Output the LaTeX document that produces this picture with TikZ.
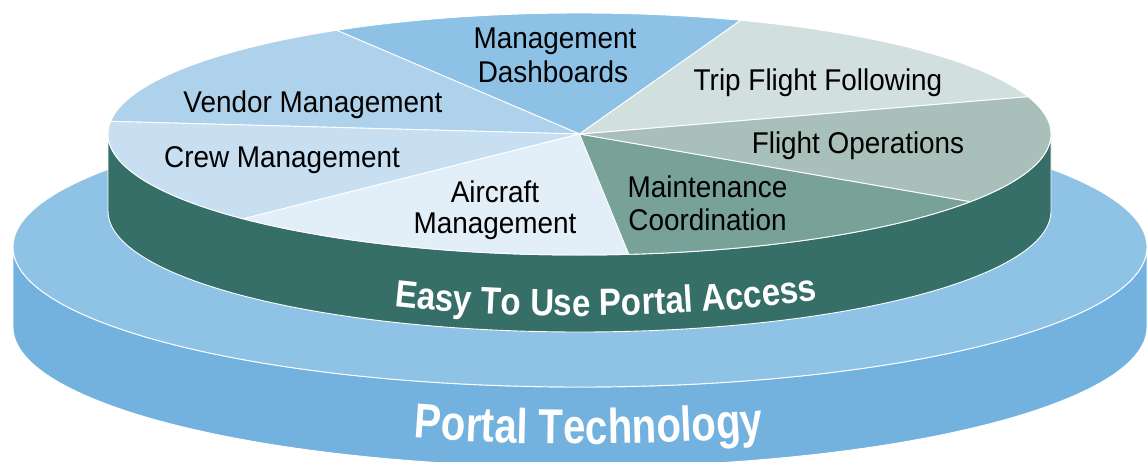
\documentclass[tikz,border=0pt]{standalone}
\usepackage{fontspec}
\usetikzlibrary{calc,decorations.text}
\newfontfamily\lblfont{Liberation Sans}[FakeStretch=0.93]
\newfontfamily\easyfont{Liberation Sans}[FakeStretch=0.87]
\newfontfamily\portalfont{Liberation Sans}[FakeStretch=0.82]
\definecolor{outertop}{HTML}{8FC3E6}
\definecolor{outerside}{HTML}{73B2DF}
\definecolor{greenside}{HTML}{366F67}
\definecolor{cdash}{HTML}{8DC2E6}
\definecolor{cvendor}{HTML}{AFD2EC}
\definecolor{ccrew}{HTML}{C7DFF1}
\definecolor{caircraft}{HTML}{E2EFF9}
\definecolor{cmaint}{HTML}{78A297}
\definecolor{cflight}{HTML}{A8BFBA}
\definecolor{ctrip}{HTML}{D1DFDE}
\begin{document}
\begin{tikzpicture}[x=1pt,y=1pt,line join=round,
  edge/.style={draw=white,line width=0.9pt},
  lbl/.style={anchor=base,inner sep=0pt,font=\lblfont\fontsize{30}{32}\selectfont,text=black}]
\useasboundingbox (0,0) rectangle (1147,-461);
\clip (0,0) rectangle (1147,-461);
\coordinate (OT) at (580,-247);
\coordinate (OB) at (580,-327);
\coordinate (PT) at (579.5,-134);
\coordinate (PB) at (579.5,-211);
\coordinate (EC) at (579.5,-195);
\coordinate (TC) at (580,-304);
% outer disc
\path[fill=outerside,edge] ($(OT)+(180:567 and 140)$) -- ($(OB)+(180:567 and 140)$)
  arc[start angle=180,end angle=360,x radius=567,y radius=140]
  -- ($(OT)+(0:567 and 140)$)
  arc[start angle=0,end angle=-180,x radius=567,y radius=140] -- cycle;
\path[fill=outertop,edge] (OT) ellipse[x radius=567,y radius=140];
% pie cylinder side
\path[fill=greenside,edge] ($(PT)+(180:471.5 and 121)$) -- ($(PB)+(180:471.5 and 121)$)
  arc[start angle=180,end angle=360,x radius=471.5,y radius=121]
  -- ($(PT)+(0:471.5 and 121)$)
  arc[start angle=0,end angle=-180,x radius=471.5,y radius=121] -- cycle;
% slices
\foreach \a/\b/\c in {70/121/cdash,121/174/cvendor,174/224.5/ccrew,224.5/276/caircraft,276/326/cmaint,326/378/cflight,18/70/ctrip}
  \path[fill=\c,edge] (PT) -- ($(PT)+(\a:471.5 and 121)$)
    arc[start angle=\a,end angle=\b,x radius=471.5,y radius=121] -- cycle;
% labels
\node[lbl] (dash1) at (555,-48) {Management};
\node[lbl] (dash2) at (553,-82) {Dashboards};
\node[lbl] (vendor) at (313,-112) {Vendor Management};
\node[lbl] (crew) at (282,-167) {Crew Management};
\node[lbl] (air1) at (495,-202) {Aircraft};
\node[lbl] (air2) at (495,-233) {Management};
\node[lbl] (trip) at (818,-90) {Trip Flight Following};
\node[lbl] (fops) at (858,-153) {Flight Operations};
\node[lbl] (maint1) at (707.5,-197) {Maintenance};
\node[lbl] (maint2) at (707.5,-230) {Coordination};
% curved labels
\path[decorate,decoration={text along path,text align=center,
  text={|\easyfont\bfseries\fontsize{38}{40}\selectfont\color{white}|Easy To Use Portal Access}}]
  ($(EC)+(237:471.5 and 121)$) arc[start angle=237,end angle=311,x radius=471.5,y radius=121];
\path[decorate,decoration={text along path,text align=center,
  text={|\portalfont\bfseries\fontsize{49}{51}\selectfont\color{white}|Portal Technology}}]
  ($(TC)+(245:567 and 140)$) arc[start angle=245,end angle=297,x radius=567,y radius=140];
\end{tikzpicture}
\end{document}
